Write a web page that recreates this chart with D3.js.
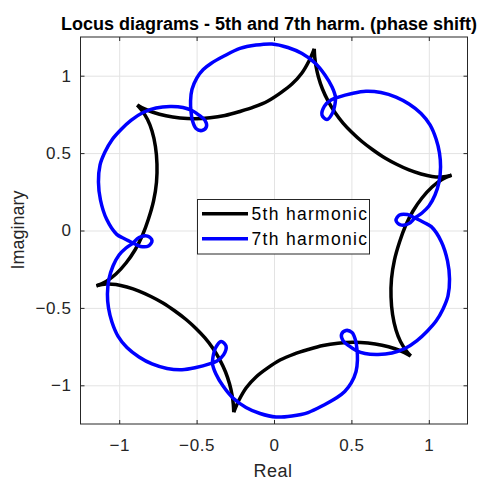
<!DOCTYPE html>
<html>
<head>
<meta charset="utf-8">
<script src="https://cdn.jsdelivr.net/npm/d3@7"></script>
<style>
  html, body { margin: 0; padding: 0; background: #fff; }
  svg { display: block; font-family: "Liberation Sans", Arial, Helvetica, sans-serif; }
</style>
</head>
<body>
<svg id="chart" width="490" height="481"></svg>
<script>
// ---------------- data ----------------
const titleText = "Locus diagrams - 5th and 7th harm. (phase shift)";
const xLabelText = "Real";
const yLabelText = "Imaginary";
const seriesNames = ["5th harmonic", "7th harmonic"];
const seriesColors = ["#000000", "#0000ff"];
const xTicks = [-1, -0.5, 0, 0.5, 1];
const yTicks = [-1, -0.5, 0, 0.5, 1];

// 5th harmonic locus: six arcs joined at cusps [real, imaginary]
const fifthArc1 = [[0.260,1.174],[0.226,1.095],[0.178,1.014],[0.116,0.946],[0.045,0.891],[-0.039,0.837],[-0.129,0.798],[-0.220,0.769],[-0.317,0.743],[-0.413,0.728],[-0.510,0.722],[-0.607,0.727],[-0.698,0.741],[-0.782,0.764],[-0.840,0.787],[-0.883,0.811]];
const fifthArc2 = [[-0.883,0.811],[-0.853,0.775],[-0.817,0.717],[-0.788,0.643],[-0.766,0.543],[-0.756,0.430],[-0.759,0.313],[-0.778,0.191],[-0.811,0.074],[-0.849,-0.029],[-0.898,-0.126],[-0.956,-0.210],[-1.021,-0.281],[-1.085,-0.329],[-1.147,-0.357]];
const fifthArc3 = [[-1.147,-0.357],[-1.085,-0.346],[-1.021,-0.349],[-0.950,-0.365],[-0.872,-0.391],[-0.795,-0.426],[-0.717,-0.468],[-0.640,-0.520],[-0.568,-0.575],[-0.504,-0.633],[-0.446,-0.694],[-0.394,-0.762],[-0.349,-0.837],[-0.313,-0.914],[-0.287,-0.992],[-0.271,-1.063],[-0.263,-1.121],[-0.260,-1.174]];
const fifthArc4 = [[-0.260,-1.174],[-0.226,-1.095],[-0.178,-1.014],[-0.116,-0.946],[-0.045,-0.891],[0.039,-0.837],[0.129,-0.798],[0.220,-0.769],[0.317,-0.743],[0.413,-0.728],[0.510,-0.722],[0.607,-0.727],[0.698,-0.741],[0.782,-0.764],[0.840,-0.787],[0.883,-0.811]];
const fifthArc5 = [[0.883,-0.811],[0.853,-0.775],[0.817,-0.717],[0.788,-0.643],[0.766,-0.543],[0.756,-0.430],[0.759,-0.313],[0.778,-0.191],[0.811,-0.074],[0.849,0.029],[0.898,0.126],[0.956,0.210],[1.021,0.281],[1.085,0.329],[1.147,0.357]];
const fifthArc6 = [[1.147,0.357],[1.085,0.346],[1.021,0.349],[0.950,0.365],[0.872,0.391],[0.795,0.426],[0.717,0.468],[0.640,0.520],[0.568,0.575],[0.504,0.633],[0.446,0.694],[0.394,0.762],[0.349,0.837],[0.313,0.914],[0.287,0.992],[0.271,1.063],[0.263,1.121],[0.260,1.174]];

// 7th harmonic locus: one closed curve with six small loops [real, imaginary]
const seventhLocus = [
  [-0.417,-0.862],[-0.504,-0.885],[-0.594,-0.899],[-0.691,-0.891],[-0.788,-0.862],[-0.872,-0.817],
  [-0.950,-0.756],[-1.008,-0.682],[-1.047,-0.591],[-1.069,-0.501],[-1.076,-0.410],[-1.066,-0.313],
  [-1.040,-0.229],[-1.001,-0.158],[-0.956,-0.113],[-0.911,-0.081],[-0.872,-0.045],[-0.817,-0.036],
  [-0.788,-0.065],[-0.811,-0.100],[-0.862,-0.103],[-0.904,-0.084],[-0.969,-0.052],[-1.016,-0.025],
  [-1.081,0.072],[-1.121,0.197],[-1.134,0.313],[-1.124,0.423],[-1.092,0.507],[-1.047,0.585],
  [-0.988,0.652],[-0.924,0.711],[-0.846,0.762],[-0.762,0.791],[-0.672,0.801],[-0.588,0.795],
  [-0.530,0.775],[-0.485,0.746],[-0.446,0.711],[-0.436,0.672],[-0.465,0.646],[-0.504,0.659],
  [-0.526,0.707],[-0.536,0.766],[-0.539,0.837],[-0.530,0.911],[-0.499,0.985],[-0.457,1.040],
  [-0.407,1.079],[-0.323,1.127],[-0.220,1.176],[-0.116,1.198],[-0.013,1.205],[0.090,1.182],
  [0.181,1.143],[0.265,1.082],[0.329,1.005],[0.375,0.927],[0.397,0.862],[0.394,0.817],
  [0.378,0.759],[0.342,0.717],[0.310,0.746],[0.326,0.804],[0.368,0.843],
  [0.417,0.862],[0.504,0.885],[0.594,0.899],[0.691,0.891],[0.788,0.862],[0.872,0.817],
  [0.950,0.756],[1.008,0.682],[1.047,0.591],[1.069,0.501],[1.076,0.410],[1.066,0.313],
  [1.040,0.229],[1.001,0.158],[0.956,0.113],[0.911,0.081],[0.872,0.045],[0.817,0.036],
  [0.788,0.065],[0.811,0.100],[0.862,0.103],[0.904,0.084],[0.969,0.052],[1.016,0.025],
  [1.081,-0.072],[1.121,-0.197],[1.134,-0.313],[1.124,-0.423],[1.092,-0.507],[1.047,-0.585],
  [0.988,-0.652],[0.924,-0.711],[0.846,-0.762],[0.762,-0.791],[0.672,-0.801],[0.588,-0.795],
  [0.530,-0.775],[0.485,-0.746],[0.446,-0.711],[0.436,-0.672],[0.465,-0.646],[0.504,-0.659],
  [0.526,-0.707],[0.536,-0.766],[0.539,-0.837],[0.530,-0.911],[0.499,-0.985],[0.457,-1.040],
  [0.407,-1.079],[0.323,-1.127],[0.220,-1.176],[0.116,-1.198],[0.013,-1.205],[-0.090,-1.182],
  [-0.181,-1.143],[-0.265,-1.082],[-0.329,-1.005],[-0.375,-0.927],[-0.397,-0.862],[-0.394,-0.817],
  [-0.378,-0.759],[-0.342,-0.717],[-0.310,-0.746],[-0.326,-0.804],[-0.368,-0.843]
];

// ---------------- drawing ----------------
const svg = d3.select("#chart");
const plot = { left: 80.5, right: 467.5, top: 37, bottom: 424 };
const x = d3.scaleLinear().domain([-1.25, 1.25]).range([plot.left, plot.right]);
const y = d3.scaleLinear().domain([-1.25, 1.25]).range([plot.bottom, plot.top]);
const W = plot.right - plot.left, H = plot.bottom - plot.top;
const fmt = d3.format("");

// grid
const grid = svg.append("g").attr("class", "grid");
grid.append("g").attr("transform", `translate(0,${plot.bottom})`)
  .call(d3.axisBottom(x).tickValues(xTicks).tickSize(-H).tickFormat(""))
  .call(g => g.select(".domain").remove())
  .call(g => g.selectAll("line").attr("stroke", "#e3e3e3").attr("stroke-width", 1));
grid.append("g").attr("transform", `translate(${plot.left},0)`)
  .call(d3.axisLeft(y).tickValues(yTicks).tickSize(-W).tickFormat(""))
  .call(g => g.select(".domain").remove())
  .call(g => g.selectAll("line").attr("stroke", "#e3e3e3").attr("stroke-width", 1));

// curves
const line = d3.line().x(d => x(d[0])).y(d => y(d[1])).curve(d3.curveCatmullRom.alpha(0.5));
const closedLine = d3.line().x(d => x(d[0])).y(d => y(d[1])).curve(d3.curveCatmullRomClosed.alpha(0.5));
const lw = 3.5;

[fifthArc1, fifthArc2, fifthArc3, fifthArc4, fifthArc5, fifthArc6].forEach(arc => {
  svg.append("path").datum(arc)
    .attr("d", line).attr("fill", "none")
    .attr("stroke", seriesColors[0]).attr("stroke-width", lw)
    .attr("stroke-linejoin", "round").attr("stroke-linecap", "butt");
});

svg.append("path").datum(seventhLocus)
  .attr("d", closedLine).attr("fill", "none")
  .attr("stroke", seriesColors[1]).attr("stroke-width", lw).attr("stroke-linejoin", "round");

// axes (ticks inside, on all four sides)
const axisColor = "#262626";
const tickLen = 4;
function styleAxis(g, showLabels) {
  g.select(".domain").remove();
  g.selectAll(".tick line").attr("stroke", axisColor).attr("stroke-width", 1);
  g.selectAll(".tick text").attr("fill", axisColor)
    .style("font-size", "17px").style("letter-spacing", "0.6px");
  if (!showLabels) g.selectAll(".tick text").remove();
}
svg.append("g").attr("transform", `translate(0,${plot.bottom})`)
  .call(d3.axisBottom(x).tickValues(xTicks).tickSize(-tickLen).tickPadding(15).tickFormat(fmt))
  .call(g => styleAxis(g, true));
svg.append("g").attr("transform", `translate(0,${plot.top})`)
  .call(d3.axisTop(x).tickValues(xTicks).tickSize(-tickLen).tickFormat(""))
  .call(g => styleAxis(g, false));
svg.append("g").attr("transform", `translate(${plot.left},0)`)
  .call(d3.axisLeft(y).tickValues(yTicks).tickSize(-tickLen).tickPadding(9).tickFormat(fmt))
  .call(g => styleAxis(g, true));
svg.append("g").attr("transform", `translate(${plot.right},0)`)
  .call(d3.axisRight(y).tickValues(yTicks).tickSize(-tickLen).tickFormat(""))
  .call(g => styleAxis(g, false));

svg.append("rect")
  .attr("x", plot.left).attr("y", plot.top).attr("width", W).attr("height", H)
  .attr("fill", "none").attr("stroke", axisColor).attr("stroke-width", 1);

// labels
svg.append("text").attr("x", 269).attr("y", 29.5).attr("text-anchor", "middle")
  .style("font-size", "18px").style("font-weight", "bold").attr("fill", "#000")
  .text(titleText);
svg.append("text").attr("x", 273).attr("y", 476.5).attr("text-anchor", "middle")
  .style("font-size", "18px").style("letter-spacing", "0.5px").attr("fill", axisColor).text(xLabelText);
svg.append("text").attr("transform", "translate(23.5,230) rotate(-90)").attr("text-anchor", "middle")
  .style("font-size", "18px").attr("fill", axisColor).text(yLabelText);

// legend
const leg = svg.append("g");
leg.append("rect").attr("x", 197.5).attr("y", 199.5).attr("width", 172).attr("height", 54.5)
  .attr("fill", "#fff").attr("stroke", axisColor).attr("stroke-width", 1);
const legY = [213.7, 238.7];
seriesNames.forEach((name, i) => {
  leg.append("line").attr("x1", 202).attr("x2", 248).attr("y1", legY[i]).attr("y2", legY[i])
    .attr("stroke", seriesColors[i]).attr("stroke-width", lw);
  leg.append("text").attr("x", 251.5).attr("y", legY[i] + 6.5)
    .style("font-size", "17.5px").style("letter-spacing", "1.3px").attr("fill", "#000").text(name);
});
</script>
</body>
</html>
